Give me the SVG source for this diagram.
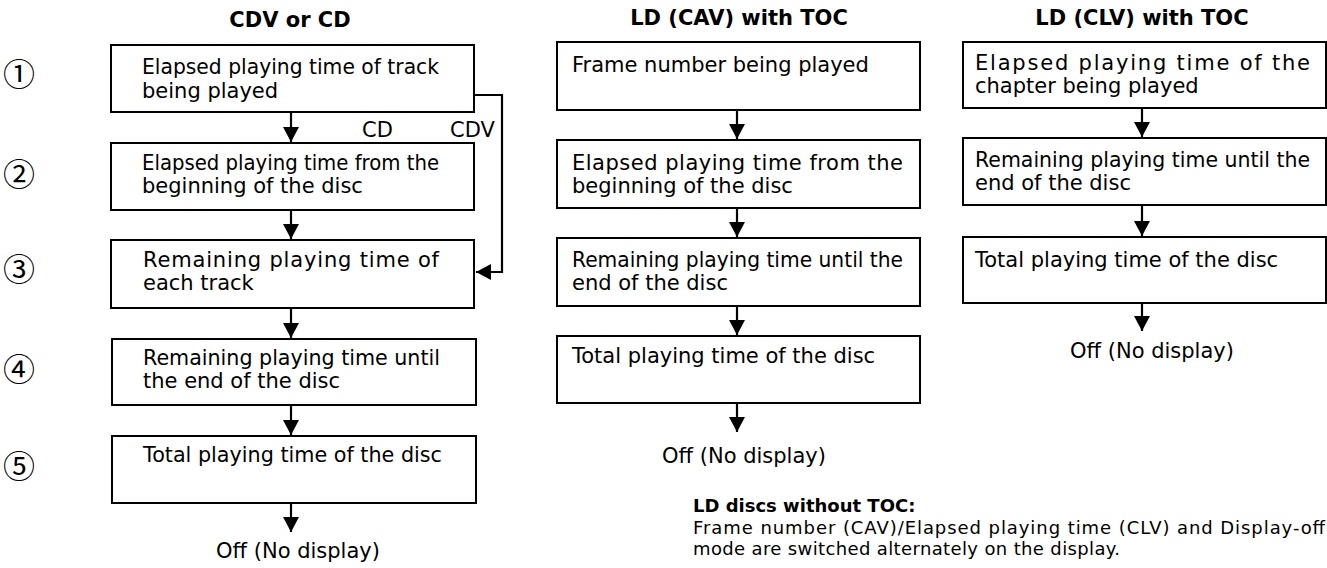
<svg xmlns="http://www.w3.org/2000/svg" width="1327" height="568" viewBox="0 0 1327 568">
<defs>
<style>
.box{fill:#fff;stroke:#000;stroke-width:2}
.t{font-family:"DejaVu Sans",sans-serif;font-size:21px;fill:#000}
.h{font-family:"DejaVu Sans",sans-serif;font-weight:bold;font-size:21px;fill:#000;text-anchor:middle}
.n{font-family:"Noto Sans CJK JP","DejaVu Sans",sans-serif;font-size:32px;fill:#000;text-anchor:middle}
.note{font-family:"DejaVu Sans",sans-serif;font-size:18px;fill:#000}
.c{fill:none;stroke:#000;stroke-width:2.2}
</style>
<marker id="ah" markerUnits="userSpaceOnUse" markerWidth="16" markerHeight="16" refX="15" refY="8" orient="auto">
<path d="M0,0 L15,8 L0,16 Z" fill="#000"/>
</marker>
</defs>
<rect width="1327" height="568" fill="#fff"/>

<g id="titles">
<text class="h" x="290" y="27">CDV or CD</text>
<text class="h" x="739" y="25">LD (CAV) with TOC</text>
<text class="h" x="1142" y="25">LD (CLV) with TOC</text>
</g>

<g id="step-numbers">
<text class="n" x="19" y="86">①</text>
<text class="n" x="19" y="186">②</text>
<text class="n" x="19" y="281">③</text>
<text class="n" x="19" y="381">④</text>
<text class="n" x="19" y="478">⑤</text>
</g>

<g id="connectors">
<line class="c" x1="291" y1="112" x2="291" y2="142" marker-end="url(#ah)"/>
<line class="c" x1="291" y1="210" x2="291" y2="239" marker-end="url(#ah)"/>
<line class="c" x1="291" y1="308" x2="291" y2="338" marker-end="url(#ah)"/>
<line class="c" x1="291" y1="405" x2="291" y2="435" marker-end="url(#ah)"/>
<line class="c" x1="291" y1="503" x2="291" y2="532" marker-end="url(#ah)"/>
<path class="c" d="M474,95 H502 V272 H476" marker-end="url(#ah)"/>
<text class="t" x="362" y="137">CD</text>
<text class="t" x="450" y="137">CDV</text>

<line class="c" x1="737" y1="110" x2="737" y2="139" marker-end="url(#ah)"/>
<line class="c" x1="737" y1="208" x2="737" y2="237" marker-end="url(#ah)"/>
<line class="c" x1="737" y1="306" x2="737" y2="335" marker-end="url(#ah)"/>
<line class="c" x1="737" y1="403" x2="737" y2="432" marker-end="url(#ah)"/>

<line class="c" x1="1142" y1="108" x2="1142" y2="137" marker-end="url(#ah)"/>
<line class="c" x1="1142" y1="205" x2="1142" y2="236" marker-end="url(#ah)"/>
<line class="c" x1="1142" y1="303" x2="1142" y2="331" marker-end="url(#ah)"/>
</g>

<g id="cd1">
<rect class="box" x="111" y="45" width="363" height="67"/>
<text class="t" x="142" y="74" textLength="297" lengthAdjust="spacingAndGlyphs">Elapsed playing time of track</text>
<text class="t" x="142" y="98">being played</text>
</g>
<g id="cd2">
<rect class="box" x="111" y="143" width="363" height="67"/>
<text class="t" x="142" y="170" textLength="297" lengthAdjust="spacingAndGlyphs">Elapsed playing time from the</text>
<text class="t" x="142" y="193">beginning of the disc</text>
</g>
<g id="cd3">
<rect class="box" x="111" y="240" width="363" height="68"/>
<text class="t" x="143" y="267" textLength="296" lengthAdjust="spacing">Remaining playing time of</text>
<text class="t" x="143" y="290">each track</text>
</g>
<g id="cd4">
<rect class="box" x="112" y="339" width="364" height="66"/>
<text class="t" x="143" y="365" textLength="297" lengthAdjust="spacingAndGlyphs">Remaining playing time until</text>
<text class="t" x="143" y="388">the end of the disc</text>
</g>
<g id="cd5">
<rect class="box" x="112" y="436" width="364" height="67"/>
<text class="t" x="143" y="462" textLength="299" lengthAdjust="spacingAndGlyphs">Total playing time of the disc</text>
</g>
<g id="cd-off">
<text class="t" x="298" y="558" text-anchor="middle">Off (No display)</text>
</g>

<g id="cav1">
<rect class="box" x="557" y="42" width="363" height="68"/>
<text class="t" x="572" y="72">Frame number being played</text>
</g>
<g id="cav2">
<rect class="box" x="557" y="140" width="363" height="68"/>
<text class="t" x="572" y="170" textLength="331" lengthAdjust="spacing">Elapsed playing time from the</text>
<text class="t" x="572" y="193">beginning of the disc</text>
</g>
<g id="cav3">
<rect class="box" x="557" y="238" width="363" height="68"/>
<text class="t" x="572" y="267" textLength="331" lengthAdjust="spacingAndGlyphs">Remaining playing time until the</text>
<text class="t" x="572" y="290">end of the disc</text>
</g>
<g id="cav4">
<rect class="box" x="557" y="336" width="363" height="67"/>
<text class="t" x="572" y="363">Total playing time of the disc</text>
</g>
<g id="cav-off">
<text class="t" x="744" y="463" text-anchor="middle">Off (No display)</text>
</g>

<g id="clv1">
<rect class="box" x="963" y="42" width="363" height="66"/>
<text class="t" x="975" y="70" textLength="335" lengthAdjust="spacing">Elapsed playing time of the</text>
<text class="t" x="975" y="93">chapter being played</text>
</g>
<g id="clv2">
<rect class="box" x="963" y="138" width="363" height="67"/>
<text class="t" x="975" y="167" textLength="335" lengthAdjust="spacingAndGlyphs">Remaining playing time until the</text>
<text class="t" x="975" y="190">end of the disc</text>
</g>
<g id="clv3">
<rect class="box" x="963" y="237" width="363" height="66"/>
<text class="t" x="975" y="267">Total playing time of the disc</text>
</g>
<g id="clv-off">
<text class="t" x="1152" y="358" text-anchor="middle">Off (No display)</text>
</g>

<g id="note">
<text class="note" x="693" y="512" font-weight="bold">LD discs without TOC:</text>
<text class="note" x="693" y="534" textLength="632" lengthAdjust="spacing">Frame number (CAV)/Elapsed playing time (CLV) and Display-off</text>
<text class="note" x="693" y="555" textLength="427" lengthAdjust="spacing">mode are switched alternately on the display.</text>
</g>
</svg>
